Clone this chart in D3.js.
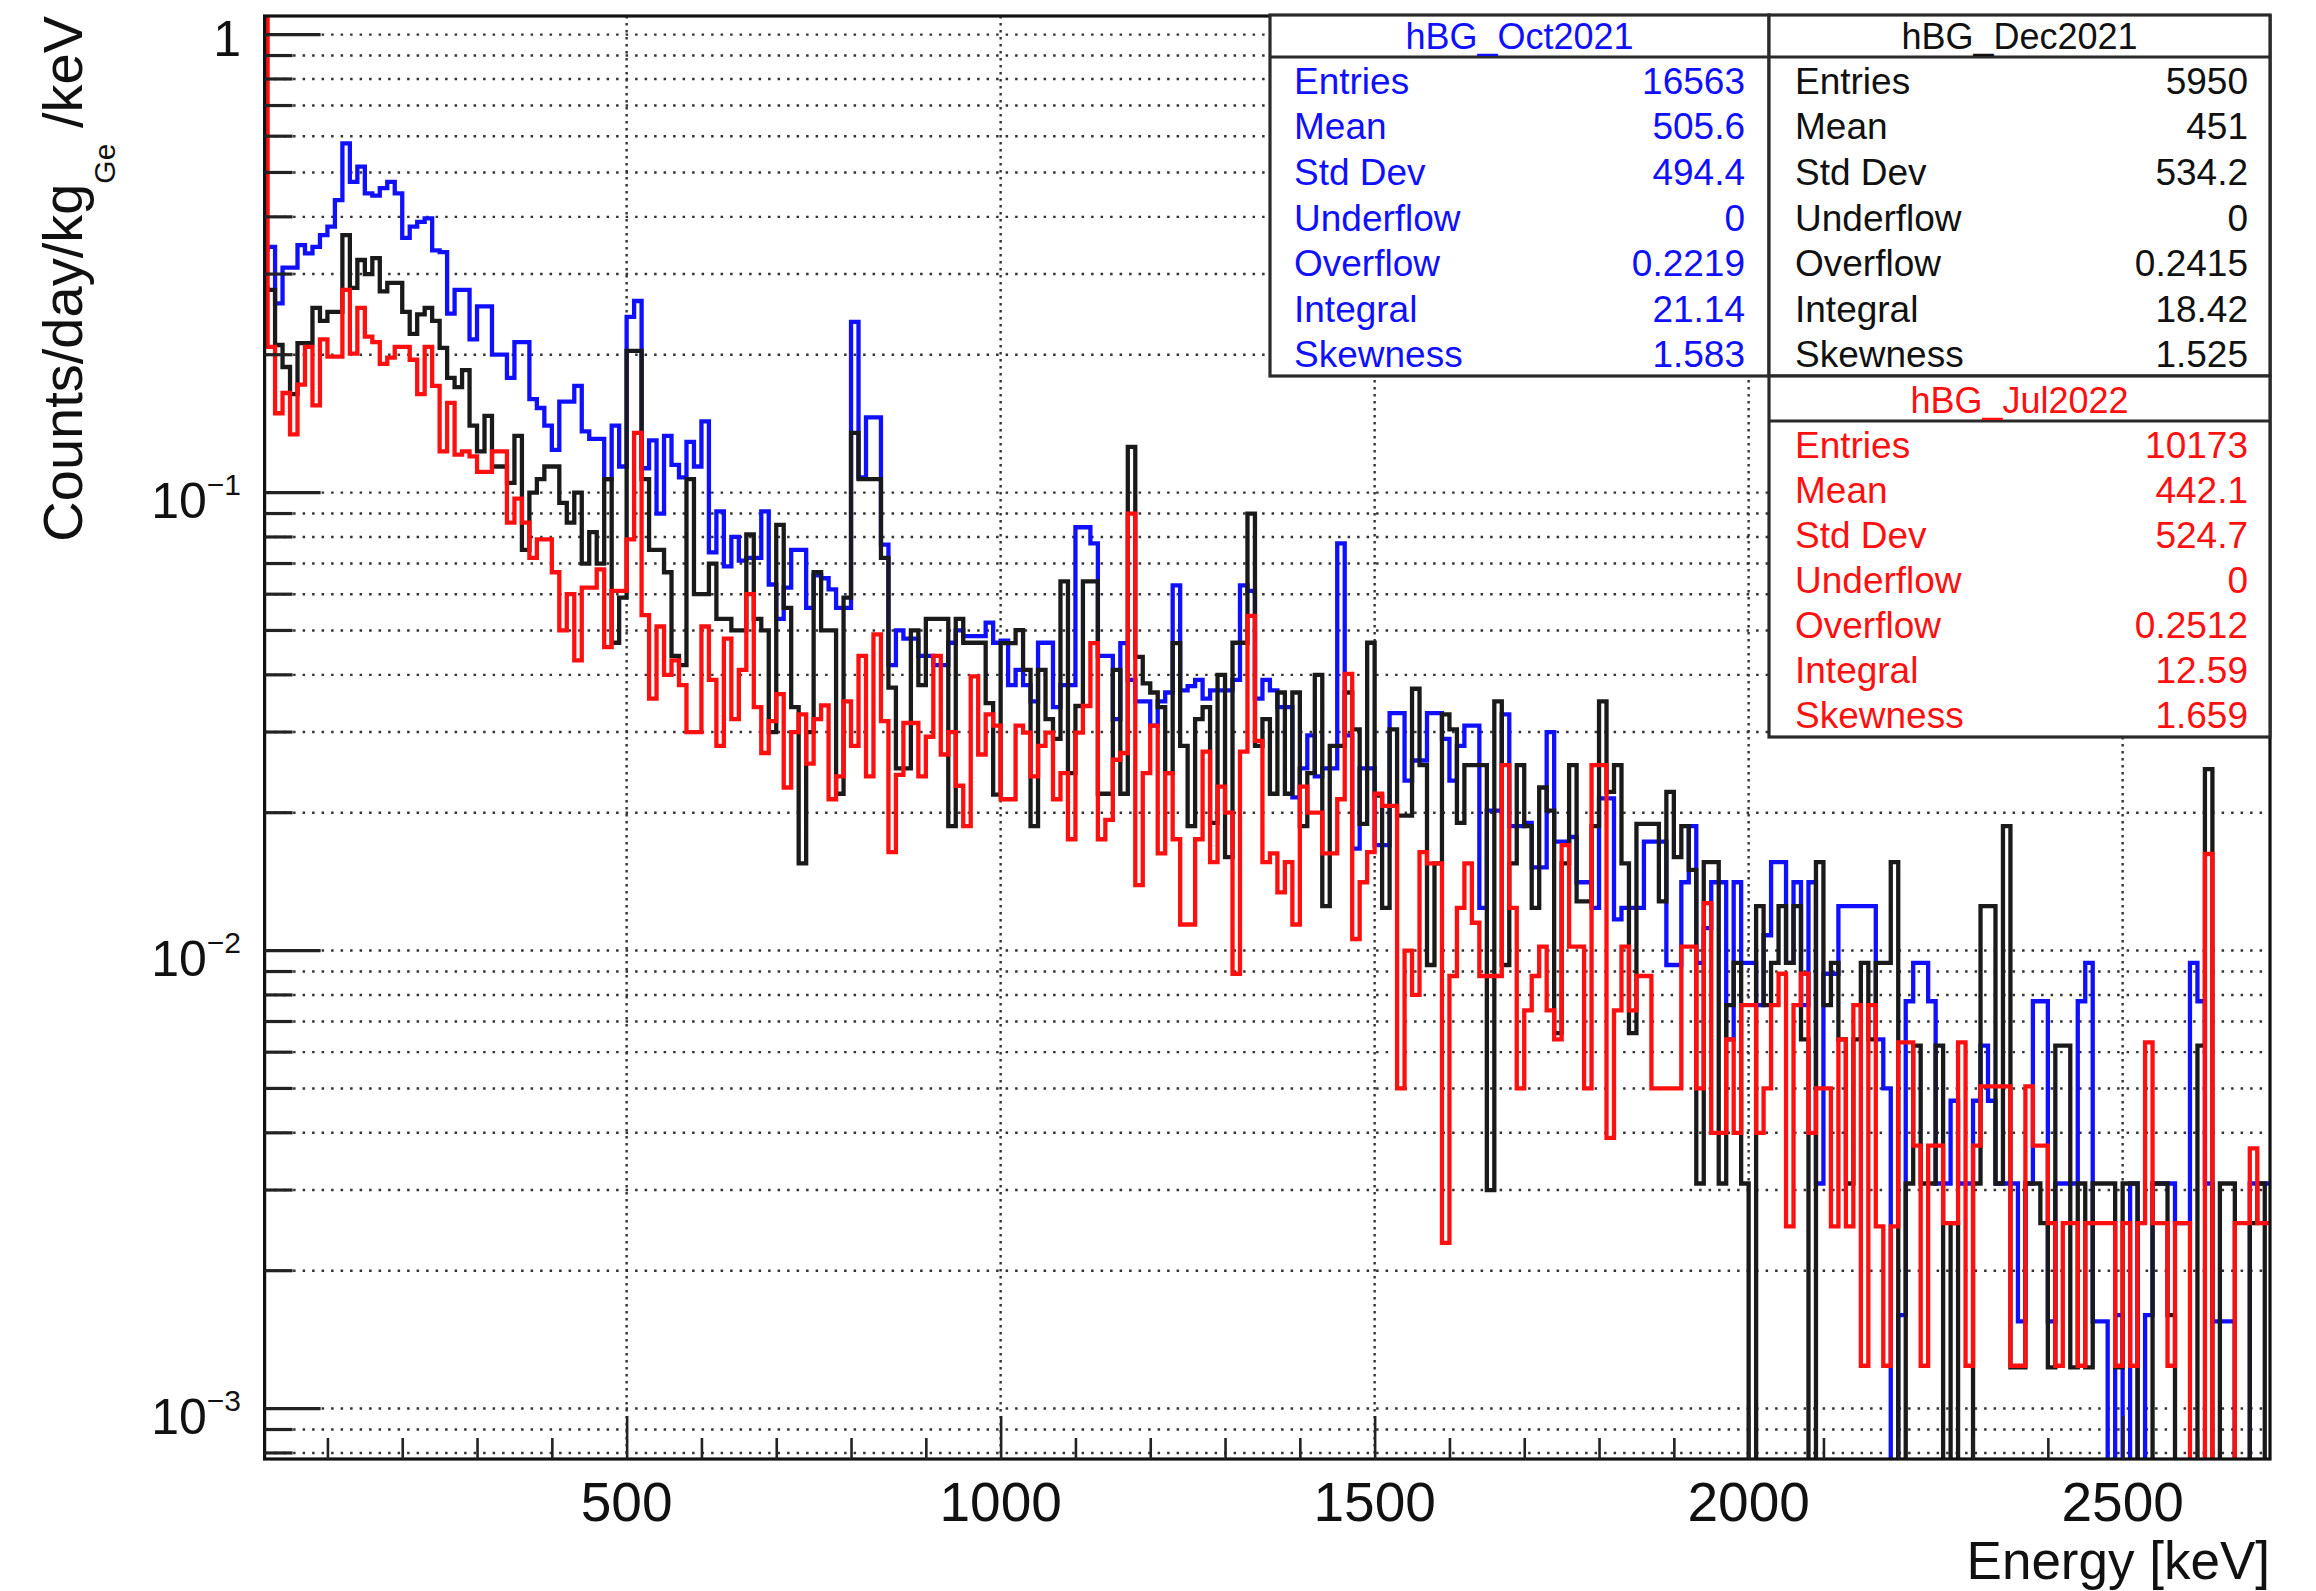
<!DOCTYPE html>
<html><head><meta charset="utf-8">
<script src="https://cdn.jsdelivr.net/npm/d3@7"></script>
<style>
html,body{margin:0;padding:0;background:#fff;}
svg{display:block;font-family:"Liberation Sans",Arial,Helvetica,sans-serif;}
</style></head><body>
<svg id="chart" width="2316" height="1591"></svg>
<script>
// ---------- data (10 keV bins, first bin starts at 10 keV) ----------
const binStart = 10, binWidth = 10;
const xDomain = [16, 2697];
const yDomain = [1.098, 7.76e-4];

const oct2021 = [
 0.34,0.344,0.259,0.31,0.31,0.347,0.333,0.344,0.365,
 0.381,0.435,0.579,0.477,0.515,0.45,0.445,0.462,0.477,0.45,
 0.36,0.381,0.39,0.397,0.338,0.335,0.246,0.277,0.277,0.216,
 0.255,0.255,0.2,0.2,0.178,0.213,0.213,0.16,0.153,0.14,
 0.124,0.158,0.158,0.171,0.136,0.131,0.131,0.107,0.14,0.114,
 0.242,0.262,0.113,0.13,0.09,0.133,0.115,0.108,0.129,0.114,
 0.143,0.074,0.091,0.069,0.08,0.071,0.072,0.072,0.091,0.063,
 0.053,0.062,0.075,0.075,0.056,0.066,0.065,0.0615,0.056,0.056,
 0.236,0.108,0.146,0.146,0.077,0.042,0.05,0.048,0.048,0.044,
 0.044,0.042,0.042,0.047,0.05,0.0486,0.0486,0.0486,0.052,0.047,
 0.0475,0.038,0.041,0.038,0.035,0.047,0.047,0.034,0.038,0.038,
 0.084,0.084,0.0775,0.044,0.044,0.032,0.0469,0.039,0.035,0.035,
 0.031,0.035,0.0366,0.0627,0.037,0.0378,0.039,0.0355,0.037,0.037,
 0.037,0.039,0.0627,0.061,0.0355,0.039,0.037,0.034,0.034,0.0216,
 0.025,0.0295,0.024,0.025,0.025,0.0775,0.0295,0.0167,0.025,0.025,
 0.017,0.017,0.033,0.033,0.0235,0.026,0.026,0.033,0.033,0.029,
 0.0235,0.028,0.031,0.031,0.0124,0.0202,0.0202,0.0328,0.0187,0.0187,
 0.019,0.0152,0.0152,0.030,0.0173,0.0173,0.0177,0.0141,0.0141,0.0124,
 0.0215,0.0215,0.0117,0.0124,0.0124,0.0124,0.0173,0.0173,0.0173,0.0093,
 0.0093,0.0141,0.0187,0.0094,0.0112,0.0141,0.0141,0.0064,0.0141,0.0094,
 0.0094,0.0076,0.0108,0.0156,0.0156,0.0094,0.0141,0.0076,0.0141,0.0031,
 0.0089,0.0089,0.0125,0.0125,0.0125,0.0125,0.0125,0.0064,0.005,0,
 0.0016,0.00775,0.0094,0.0094,0.00775,0.0031,0.0031,0.0047,0.0031,0.0031,
 0.0047,0.0062,0.0047,0.0031,0.0031,0.0031,0.00155,0.0031,0.00775,0.00775,
 0.00155,0.0031,0.0031,0.0031,0.00775,0.0094,0.00155,0.00155,0,0.0016,
 0,0.0031,0,0.0016,0.0031,0.0031,0.0031,0.00254,0.00254,0.0094,
 0.00775,0.0031,0.00155,0.00155,0.00155,0,0,0.0031,0.0031,0.0031
];
const dec2021 = [
 0.28,0.277,0.21,0.188,0.164,0.212,0.212,0.253,0.237,
 0.248,0.248,0.365,0.28,0.322,0.3,0.325,0.275,0.287,0.287,
 0.248,0.222,0.245,0.253,0.237,0.207,0.178,0.17,0.185,0.14,
 0.123,0.147,0.114,0.114,0.105,0.133,0.075,0.1,0.107,0.114,
 0.114,0.095,0.086,0.1,0.07,0.082,0.07,0.107,0.047,0.059,
 0.204,0.204,0.107,0.075,0.075,0.067,0.044,0.042,0.107,0.06,
 0.06,0.07,0.053,0.053,0.05,0.05,0.081,0.053,0.05,0.03,
 0.085,0.056,0.034,0.0155,0.03,0.067,0.05,0.05,0.022,0.059,
 0.135,0.107,0.107,0.107,0.072,0.0375,0.025,0.025,0.05,0.038,
 0.053,0.053,0.053,0.0187,0.053,0.047,0.047,0.047,0.0347,0.0219,
 0.0469,0.0469,0.0501,0.041,0.0187,0.041,0.032,0.029,0.064,0.0244,
 0.0342,0.064,0.064,0.022,0.022,0.041,0.022,0.1258,0.0438,0.0383,
 0.0366,0.034,0.0244,0.0469,0.028,0.0187,0.032,0.034,0.019,0.040,
 0.016,0.047,0.047,0.09,0.028,0.032,0.022,0.0366,0.022,0.0366,
 0.0187,0.0244,0.040,0.0125,0.028,0.028,0.0366,0.0304,0.0189,0.047,
 0.0218,0.0124,0.0304,0.0197,0.0197,0.0373,0.0254,0.0093,0.0155,0.0328,
 0.0304,0.019,0.0254,0.0254,0.0254,0.003,0.035,0.0093,0.0155,0.0254,
 0.0187,0.0124,0.0227,0.0202,0.0066,0.0155,0.0254,0.0128,0.0128,0.0187,
 0.035,0.0222,0.0254,0.0155,0.0066,0.0189,0.0189,0.0189,0.0128,0.0222,
 0.016,0.0187,0.015,0.0031,0.0156,0.0156,0.0031,0.0076,0.0094,0.0031,
 0,0.0125,0.0076,0.0094,0.0125,0.0094,0.0125,0.0064,0,0.0156,
 0.0076,0.0094,0.0064,0.0031,0.0064,0.0094,0.0064,0.0094,0.0094,0.0156,
 0,0.0031,0.0062,0.0031,0.0031,0.0062,0,0.00254,0,0,
 0.0031,0.0125,0.0125,0.0031,0.0187,0.00123,0.00123,0.0031,0.0031,0.00254,
 0.00123,0.0062,0.0062,0.00123,0.0031,0.00123,0.0031,0.0031,0.0031,0.00123,
 0.0031,0.0031,0,0,0.0031,0.0031,0.0016,0,0,0,
 0.0062,0.0249,0,0.0031,0.0031,0,0,0.00254,0.0031,0
];
const jul2022 = [
 3.0,0.208,0.149,0.165,0.134,0.172,0.208,0.155,0.216,
 0.198,0.198,0.277,0.201,0.253,0.219,0.213,0.191,0.197,0.208,
 0.208,0.195,0.164,0.208,0.171,0.123,0.157,0.121,0.123,0.12,
 0.111,0.111,0.123,0.123,0.086,0.097,0.086,0.072,0.079,0.079,
 0.067,0.05,0.06,0.043,0.062,0.062,0.068,0.046,0.061,0.061,
 0.079,0.135,0.054,0.0355,0.051,0.040,0.043,0.038,0.030,0.030,
 0.051,0.039,0.028,0.048,0.032,0.041,0.060,0.034,0.027,0.0317,
 0.0363,0.0227,0.030,0.0328,0.0256,0.032,0.0343,0.0214,0.024,0.035,
 0.028,0.044,0.024,0.049,0.0317,0.0164,0.0242,0.0314,0.0314,0.024,
 0.0293,0.044,0.0268,0.030,0.0229,0.0187,0.0397,0.0268,0.0328,0.031,
 0.0214,0.0214,0.031,0.0299,0.024,0.028,0.0299,0.0214,0.0244,0.0175,
 0.0299,0.0342,0.0469,0.0175,0.0193,0.0261,0.027,0.09,0.0139,0.0244,
 0.031,0.0163,0.0244,0.0175,0.0114,0.0114,0.0175,0.0272,0.0156,0.0228,
 0.020,0.0089,0.0272,0.0538,0.0287,0.0156,0.0163,0.0134,0.0156,0.0114,
 0.0228,0.020,0.020,0.0163,0.0163,0.0214,0.0402,0.0106,0.0141,0.0164,
 0.022,0.0207,0.0207,0.005,0.010,0.008,0.0164,0.0155,0.0155,0.0023,
 0.0088,0.0124,0.0155,0.0115,0.0088,0.0088,0.0088,0.0254,0.0124,0.005,
 0.0074,0.0088,0.0102,0.0074,0.0064,0.017,0.0102,0.0102,0.005,0.0254,
 0.0254,0.0039,0.0074,0.0102,0.0074,0.0088,0.0088,0.005,0.005,0.005,
 0.005,0.0102,0.0102,0.005,0.0127,0.004,0.004,0.0064,0.004,0.0076,
 0.0076,0.004,0.005,0.0076,0.0089,0.0025,0.0076,0.0089,0.004,0.005,
 0.005,0.0025,0.0064,0.0025,0.0076,0.00124,0.0076,0.0025,0.00124,0.0025,
 0.0063,0.0063,0.00375,0.00124,0.00375,0.00375,0.00254,0.00254,0.0063,0.00124,
 0.00375,0.00505,0.00505,0.00505,0.00505,0.00124,0.00124,0.00505,0.00375,0.00375,
 0.00254,0.00124,0.00254,0.00254,0.00124,0.00254,0.00254,0.00254,0.00254,0.00124,
 0.00254,0.00124,0.00254,0.0063,0.00254,0.00254,0.00124,0.00254,0.00254,0,
 0,0.01625,0,0,0,0.00254,0.00254,0.0037,0.00254,0.00254
];

const seriesNames = ["hBG_Oct2021","hBG_Dec2021","hBG_Jul2022"];
const seriesColors = ["#1010ff","#1a1a1a","#ff1010"];

const xTickValues = [500,1000,1500,2000,2500];
const xTickLabels = ["500","1000","1500","2000","2500"];
const xMinorTicks = [100,200,300,400,600,700,800,900,1100,1200,1300,1400,1600,1700,1800,1900,2100,2200,2300,2400,2600];
const yTickValues = [1,0.1,0.01,0.001];
const yTickBase = ["1","10","10","10"];
const yTickExp = ["","\u22121","\u22122","\u22123"];
const xTitle = "Energy [keV]";
const yTitleMain = "Counts/day/kg", yTitleSub = "Ge", yTitleEnd = " /keV";

const statLabels = ["Entries","Mean","Std Dev","Underflow","Overflow","Integral","Skewness"];
const statsOct = ["16563","505.6","494.4","0","0.2219","21.14","1.583"];
const statsDec = ["5950","451","534.2","0","0.2415","18.42","1.525"];
const statsJul = ["10173","442.1","524.7","0","0.2512","12.59","1.659"];

// ---------- drawing ----------
const svg = d3.select("#chart");
const P = {left:264.6, right:2270, top:16, bottom:1459};
const x = d3.scaleLinear().domain(xDomain).range([P.left,P.right]).clamp(true);
const y = d3.scaleLog().domain(yDomain).range([P.top,P.bottom]);

svg.append("rect").attr("width",2316).attr("height",1591).attr("fill","#fff");
svg.append("defs").append("clipPath").attr("id","clip")
  .append("rect").attr("x",P.left).attr("y",P.top)
  .attr("width",P.right-P.left).attr("height",P.bottom-P.top);

const yAllTicks = [];
for (let k=-4;k<=0;k++) for (let m=1;m<=9;m++){
  const v = m*Math.pow(10,k);
  if (v<=yDomain[0] && v>=yDomain[1]) yAllTicks.push(v);
}
const isMajor = v => Math.abs(Math.log10(v)-Math.round(Math.log10(v)))<1e-9;

// grid
const grid = svg.append("g");
grid.selectAll("line.hg").data(yAllTicks).join("line")
  .attr("x1",P.left).attr("x2",P.right)
  .attr("y1",d=>y(d)).attr("y2",d=>y(d))
  .attr("stroke","#333").attr("stroke-width",2.4).attr("stroke-dasharray","2.5,7");
grid.selectAll("line.vg").data(xTickValues).join("line")
  .attr("x1",d=>x(d)).attr("x2",d=>x(d))
  .attr("y1",P.top).attr("y2",P.bottom)
  .attr("stroke","#333").attr("stroke-width",2.4).attr("stroke-dasharray","2.5,4.5");

// histograms
const yPos = v => v>0 ? y(v) : P.bottom+30;
const stepLine = d3.line().x(d=>x(d[0])).y(d=>yPos(d[1])).curve(d3.curveStepAfter);
function pts(vals){
  const p = vals.map((v,i)=>[binStart+i*binWidth, v]);
  p.push([binStart+vals.length*binWidth, vals[vals.length-1]]);
  return p;
}
const hg = svg.append("g").attr("clip-path","url(#clip)");
[oct2021,dec2021,jul2022].forEach((vals,i)=>{
  hg.append("path").attr("d",stepLine(pts(vals)))
    .attr("fill","none").attr("stroke",seriesColors[i])
    .attr("stroke-width",4.3).attr("stroke-linejoin","miter").attr("stroke-linecap","butt");
});

// frame
svg.append("rect").attr("x",P.left).attr("y",P.top)
  .attr("width",P.right-P.left).attr("height",P.bottom-P.top)
  .attr("fill","none").attr("stroke","#111").attr("stroke-width",3.2);

// y ticks
svg.append("g").selectAll("line").data(yAllTicks).join("line")
  .attr("x1",P.left).attr("x2",d=>P.left+(isMajor(d)?56:28))
  .attr("y1",d=>y(d)).attr("y2",d=>y(d))
  .attr("stroke","#222").attr("stroke-width",3.2);
// x ticks via d3 axis (drawn inward)
const xAxisMajor = d3.axisBottom(x).tickValues(xTickValues).tickSizeInner(-43).tickSizeOuter(0).tickFormat("");
const xAxisMinor = d3.axisBottom(x).tickValues(xMinorTicks).tickSizeInner(-21).tickSizeOuter(0).tickFormat("");
[xAxisMajor,xAxisMinor].forEach(ax=>{
  const g = svg.append("g").attr("transform",`translate(0,${P.bottom})`).call(ax);
  g.select(".domain").remove();
  g.selectAll("line").attr("stroke","#222").attr("stroke-width",2.6);
});

// x tick labels
svg.append("g").selectAll("text").data(xTickValues).join("text")
  .attr("x",d=>x(d)).attr("y",1521).attr("text-anchor","middle")
  .attr("font-size",55).attr("fill","#111").text((d,i)=>xTickLabels[i]);

// y tick labels
yTickValues.forEach((v,i)=>{
  const t = svg.append("text").attr("x",241).attr("y",y(v)+(i===0?21:25))
    .attr("text-anchor","end").attr("font-size",50).attr("fill","#111");
  t.append("tspan").text(yTickBase[i]);
  if (yTickExp[i]) t.append("tspan").attr("dy",-23).attr("font-size",30).text(yTickExp[i]);
});

// axis titles
svg.append("text").attr("x",2270).attr("y",1579).attr("text-anchor","end")
  .attr("font-size",53).attr("fill","#111").text(xTitle);
const yt = svg.append("text").attr("transform","translate(82,16) rotate(-90)")
  .attr("text-anchor","end").attr("font-size",56).attr("fill","#111");
yt.append("tspan").text(yTitleMain);
yt.append("tspan").attr("dy",33).attr("font-size",30).text(yTitleSub);
yt.append("tspan").attr("dy",-33).text(yTitleEnd);

// stats boxes
function statBox(x0,x1,y0,yT,y1,name,color,vals,labelX,valX){
  const g = svg.append("g");
  g.append("rect").attr("x",x0).attr("y",y0).attr("width",x1-x0).attr("height",y1-y0)
    .attr("fill","#fff").attr("stroke","#2a2a2a").attr("stroke-width",3.2);
  g.append("line").attr("x1",x0).attr("x2",x1).attr("y1",yT).attr("y2",yT)
    .attr("stroke","#2a2a2a").attr("stroke-width",3.2);
  g.append("text").attr("x",(x0+x1)/2).attr("y",yT-8).attr("text-anchor","middle")
    .attr("font-size",36).attr("fill",color).text(name);
  const rh = (y1-yT)/statLabels.length;
  statLabels.forEach((l,i)=>{
    const by = yT + rh*(i+0.5) + 14;
    g.append("text").attr("x",labelX).attr("y",by).attr("font-size",37).attr("fill",color).text(l);
    g.append("text").attr("x",valX).attr("y",by).attr("text-anchor","end")
      .attr("font-size",37).attr("fill",color).text(vals[i]);
  });
}
statBox(1270,1769,15,57,376,seriesNames[0],seriesColors[0],statsOct,1294,1745);
statBox(1769,2270,15,57,376,seriesNames[1],"#111",statsDec,1795,2248);
statBox(1769,2270,376,421,737,seriesNames[2],seriesColors[2],statsJul,1795,2248);
</script>
</body></html>
